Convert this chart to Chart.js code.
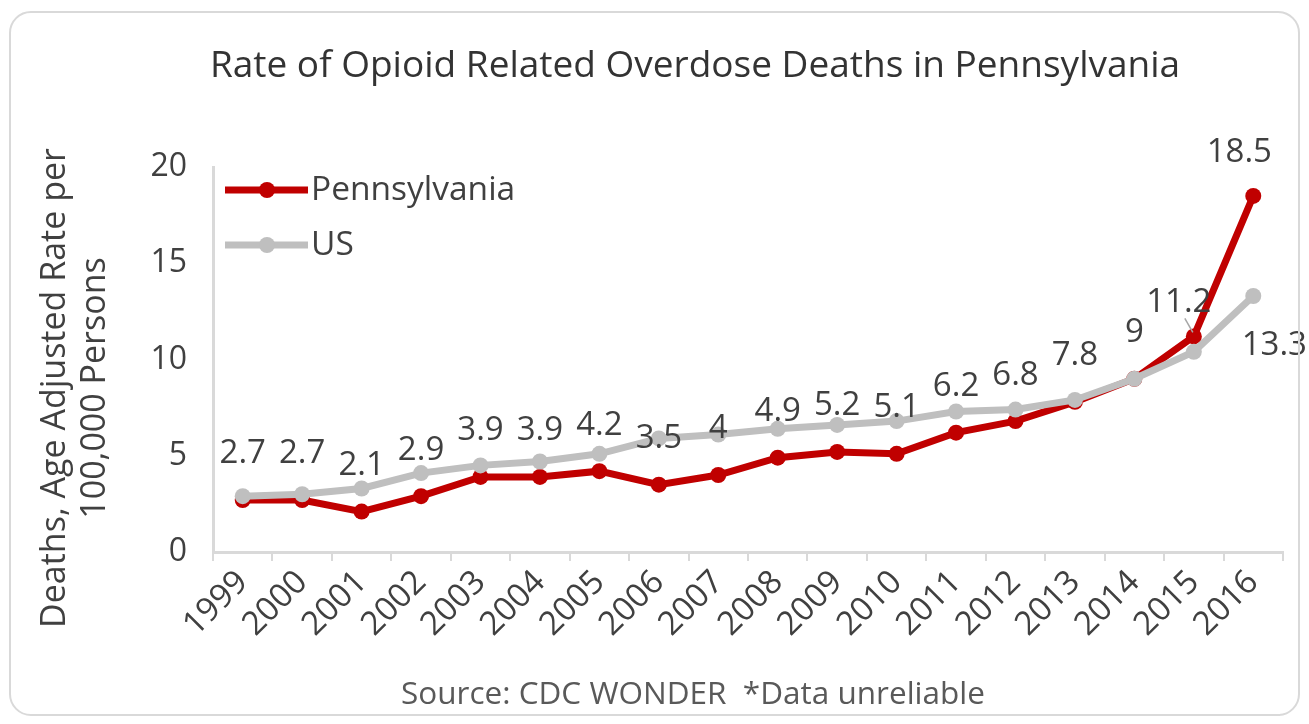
<!DOCTYPE html>
<html>
<head>
<meta charset="utf-8">
<title>Rate of Opioid Related Overdose Deaths in Pennsylvania</title>
<script src="https://cdn.jsdelivr.net/npm/chart.js@4.4.1/dist/chart.umd.min.js"></script>
<style>
    html, body { margin: 0; padding: 0; background: #fff; }
    .chart-wrap { position: relative; width: 1309px; height: 724px; overflow: hidden; }
    .chart-frame {
        position: absolute; left: 9px; top: 11px; width: 1287px; height: 701px;
        border: 2px solid #d9d9d9; border-radius: 22px; pointer-events: none;
    }
    canvas { display: block; }
</style>
</head>
<body>
<div class="chart-wrap">
    <canvas id="overdoseChart" width="1309" height="724"></canvas>
    <div class="chart-frame"></div>
</div>
<script>
// Chart data
const years = ['1999', '2000', '2001', '2002', '2003', '2004', '2005', '2006', '2007',
    '2008', '2009', '2010', '2011', '2012', '2013', '2014', '2015', '2016'];
const paRates = [2.7, 2.7, 2.1, 2.9, 3.9, 3.9, 4.2, 3.5, 4, 4.9, 5.2, 5.1, 6.2, 6.8, 7.8, 9, 11.2, 18.5];
const usRates = [2.9, 3.0, 3.3, 4.1, 4.5, 4.7, 5.1, 5.9, 6.1, 6.4, 6.6, 6.8, 7.3, 7.4, 7.9, 9.0, 10.4, 13.3];
const yTicks = [0, 5, 10, 15, 20];

const chartTitle = 'Rate of Opioid Related Overdose Deaths in Pennsylvania';
const yAxisTitle = ['Deaths, Age Adjusted Rate per', '100,000 Persons'];
const sourceNote = 'Source: CDC WONDER  *Data unreliable';

const PA_RED = '#c00000';
const US_GREY = '#bfbfbf';
const TEXT_DARK = '#404040';
const FONT = "'Open Sans', sans-serif";

Chart.defaults.font.family = FONT;

// Title, axis title, legend, labels and footer drawn on the canvas
const chartDecor = {
    id: 'chartDecor',
    afterDatasetsDraw(chart) {
        const ctx = chart.ctx;
        const xs = chart.scales.x;
        const ys = chart.scales.y;

        ctx.save();
        ctx.font = '33px ' + FONT;
        ctx.fillStyle = TEXT_DARK;
        ctx.textAlign = 'center';
        ctx.textBaseline = 'middle';

        // Pennsylvania value labels (above the lines)
        paRates.forEach((v, i) => {
            const px = xs.getPixelForValue(i);
            const py = ys.getPixelForValue(v);
            let dx = 0, dy = -46;
            if (i === 16) {
                // 2015 label pulled aside with a leader line
                dx = -15; dy = -34;
                ctx.strokeStyle = '#a6a6a6';
                ctx.lineWidth = 1.5;
                ctx.beginPath();
                ctx.moveTo(px - 9, py - 18);
                ctx.lineTo(px - 1, py - 4);
                ctx.stroke();
            }
            if (i === paRates.length - 1) { dx = -14; dy = -43; }
            ctx.fillText(String(v), px + dx, py + dy);
        });

        // US label only on the last point
        const last = usRates.length - 1;
        ctx.fillText(String(usRates[last]),
            xs.getPixelForValue(last) + 21, ys.getPixelForValue(usRates[last]) + 50);
        ctx.restore();
    },
    afterDraw(chart) {
        const ctx = chart.ctx;
        ctx.save();

        // Chart title
        ctx.fillStyle = '#333333';
        ctx.textAlign = 'center';
        ctx.textBaseline = 'middle';
        ctx.font = '37px ' + FONT;
        ctx.fillText(chartTitle, 695, 66);

        // Footer note
        ctx.fillStyle = '#595959';
        ctx.font = '31.5px ' + FONT;
        ctx.fillText(sourceNote, 693, 695);

        // Rotated y axis title
        ctx.fillStyle = TEXT_DARK;
        ctx.font = '34px ' + FONT;
        yAxisTitle.forEach((line, i) => {
            ctx.save();
            ctx.translate(55 + i * 40, 388);
            ctx.rotate(-Math.PI / 2);
            ctx.fillText(line, 0, 0);
            ctx.restore();
        });

        // Legend inside the plot area
        const legendRows = [
            { label: chart.data.datasets[0].label, color: PA_RED, y: 190 },
            { label: chart.data.datasets[1].label, color: US_GREY, y: 245 }
        ];
        legendRows.forEach(row => {
            ctx.strokeStyle = row.color;
            ctx.lineWidth = 7;
            ctx.beginPath();
            ctx.moveTo(225, row.y);
            ctx.lineTo(308, row.y);
            ctx.stroke();
            ctx.fillStyle = row.color;
            ctx.beginPath();
            ctx.arc(267, row.y, 8, 0, Math.PI * 2);
            ctx.fill();
            ctx.fillStyle = TEXT_DARK;
            ctx.textAlign = 'left';
            ctx.font = '33.5px ' + FONT;
            ctx.fillText(row.label, 311, row.y);
        });

        ctx.restore();
    }
};

function initChart() {
    const ctx = document.getElementById('overdoseChart').getContext('2d');

    new Chart(ctx, {
        type: 'line',
        data: {
            labels: years,
            datasets: [
                {
                    label: 'Pennsylvania',
                    data: paRates,
                    borderColor: PA_RED,
                    backgroundColor: PA_RED,
                    borderWidth: 7,
                    pointRadius: 8,
                    pointBorderWidth: 0,
                    tension: 0,
                    order: 1
                },
                {
                    label: 'US',
                    data: usRates,
                    borderColor: US_GREY,
                    backgroundColor: US_GREY,
                    borderWidth: 7,
                    pointRadius: 8,
                    pointBorderWidth: 0,
                    tension: 0,
                    order: 0 // grey line sits on top like in Excel
                }
            ]
        },
        options: {
            responsive: false,
            animation: false,
            layout: {
                padding: { top: 167, right: 26, bottom: 0, left: 0 }
            },
            plugins: {
                legend: { display: false },
                tooltip: { enabled: false },
                title: { display: false }
            },
            scales: {
                x: {
                    offset: true,
                    grid: {
                        display: true,
                        drawOnChartArea: false,
                        drawTicks: true,
                        tickLength: 9,
                        offset: true,
                        color: '#d9d9d9',
                        lineWidth: 2
                    },
                    border: { display: true, color: '#d9d9d9', width: 3 },
                    ticks: {
                        color: TEXT_DARK,
                        font: { size: 33 },
                        minRotation: 45,
                        maxRotation: 45,
                        padding: 2,
                        autoSkip: false
                    },
                    afterFit(scale) { scale.height = 724 - 552; }
                },
                y: {
                    min: 0,
                    max: 20,
                    afterBuildTicks(scale) {
                        scale.ticks = yTicks.map(v => ({ value: v }));
                    },
                    grid: { display: false, drawTicks: false },
                    border: { display: true, color: '#d9d9d9', width: 3 },
                    ticks: {
                        color: TEXT_DARK,
                        font: { size: 32 },
                        padding: 26
                    },
                    afterFit(scale) { scale.width = 213; }
                }
            }
        },
        plugins: [chartDecor]
    });
}

document.addEventListener('DOMContentLoaded', () => {
    initChart();
});
</script>
</body>
</html>
